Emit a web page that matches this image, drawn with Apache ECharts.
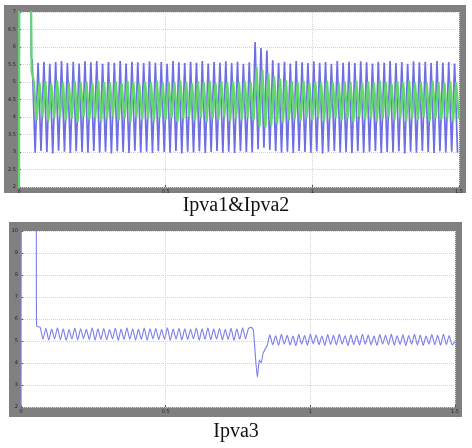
<!DOCTYPE html>
<html>
<head>
<meta charset="utf-8">
<script src="https://cdn.jsdelivr.net/npm/echarts@6/dist/echarts.min.js"></script>
<style>
  html, body { margin: 0; padding: 0; background: #fff; }
  #chart { width: 472px; height: 448px; }
</style>
</head>
<body>
<div id="chart"></div>
<script>
  // ---- data (A, time in s) ----
  const halfPeriod = 0.01; // 50 Hz ripple, peak / trough every 10 ms

  // Ipva1 (blue), top panel
  const ipva1StartT = [0, 0.001, 0.04, 0.042];
  const ipva1StartV = [0, 9, 9, 5.7];
  const ipva1Peaks = [
    5.62, 5.55, 5.58, 5.52, 5.57, 5.6, 5.54, 5.58, 5.53, 5.59,
    5.56, 5.6, 5.52, 5.57, 5.55, 5.6, 5.53, 5.58, 5.56, 5.54,
    5.59, 5.55, 5.57, 5.52, 5.6, 5.56, 5.54, 5.58, 5.55, 5.6,
    5.53, 5.57, 5.55, 5.59, 5.54, 5.58, 5.52, 5.56,
    6.14, 5.97, 5.9, 5.62,
    5.55, 5.58, 5.53, 5.6, 5.56, 5.54, 5.59, 5.55,
    5.57, 5.52, 5.6, 5.55, 5.58, 5.54, 5.59, 5.56, 5.53, 5.58,
    5.55, 5.6, 5.54, 5.57, 5.52, 5.59, 5.56, 5.58, 5.54, 5.6,
    5.55, 5.57, 5.53
  ];
  const ipva1Troughs = [
    2.98, 3.03, 3.0, 2.96, 3.04, 3.01, 2.97, 3.02, 3.0, 2.98,
    3.03, 2.99, 3.01, 2.96, 3.02, 3.0, 2.97, 3.04, 2.99, 3.01,
    2.97, 3.02, 3.0, 2.98, 3.03, 2.96, 3.01, 2.99, 3.02, 2.97,
    3.0, 3.03, 2.98, 3.01, 2.97, 3.02, 3.0, 2.99,
    3.08, 3.12, 3.06, 3.02, 2.98, 3.01, 2.97, 3.03,
    3.0, 2.98, 3.02, 2.96, 3.01, 3.03, 2.99, 3.0, 2.97, 3.02,
    2.98, 3.01, 3.03, 2.97, 3.0, 2.99, 3.02, 2.96, 3.01, 2.98,
    3.03, 3.0, 2.97, 3.02, 2.99, 3.01, 2.98
  ];

  // Ipva2 (green), top panel
  const ipva2StartT = [0, 0.001, 0.04, 0.043];
  const ipva2StartV = [0, 9, 9, 5.3];
  const ipva2Peaks = [
    5.05, 4.98, 5.02, 4.96, 5.04, 5.0, 4.97, 5.03, 4.99, 5.01,
    4.96, 5.04, 5.0, 4.98, 5.02, 4.97, 5.03, 5.0, 4.96, 5.02,
    4.99, 5.03, 4.97, 5.01, 4.98, 5.04, 5.0, 4.96, 5.02, 4.99,
    5.03, 4.97, 5.01, 4.98, 5.02, 4.99, 5.03, 5.0,
    5.42, 5.34, 5.25, 5.16, 5.1, 5.05, 5.02, 4.99,
    5.03, 4.97, 5.01, 4.98, 5.04, 5.0, 4.96, 5.02, 4.99, 5.03,
    4.97, 5.01, 4.98, 5.03, 5.0, 4.96, 5.02, 4.99, 5.04, 4.98,
    5.01, 4.97, 5.03, 5.0, 4.98, 5.02, 4.99
  ];
  const ipva2Troughs = [
    3.92, 4.0, 3.88, 3.97, 4.02, 3.9, 3.96, 3.86, 4.0, 3.93,
    3.98, 3.87, 3.95, 4.01, 3.9, 3.97, 3.85, 3.99, 3.92, 3.96,
    3.88, 4.0, 3.93, 3.97, 3.86, 3.95, 4.01, 3.9, 3.98, 3.87,
    3.96, 3.92, 4.0, 3.89, 3.97, 3.93, 3.99, 3.9,
    3.72, 3.7, 3.76, 3.8, 3.85, 3.9, 3.94, 3.88,
    3.97, 3.92, 4.0, 3.87, 3.95, 3.99, 3.9, 3.96, 3.86, 4.0,
    3.93, 3.97, 3.88, 3.95, 4.01, 3.9, 3.98, 3.87, 3.96, 3.92,
    4.0, 3.89, 3.97, 3.93, 3.99, 3.88, 3.95
  ];

  // Ipva3 (blue), bottom panel
  const ipva3StartT = [0, 0.001, 0.052, 0.054, 0.066];
  const ipva3StartV = [0, 12, 12, 5.68, 5.62];
  const ipva3TroughsA = [
    5.08, 5.04, 5.1, 5.06, 5.03, 5.09, 5.05, 5.11, 5.07, 5.04,
    5.08, 5.06, 5.1, 5.03, 5.07, 5.09, 5.05, 5.08, 5.04, 5.1,
    5.06, 5.08, 5.03, 5.09, 5.05, 5.07, 5.1, 5.04, 5.08, 5.06,
    5.09, 5.05, 5.07, 5.03, 5.08, 5.1
  ];
  const ipva3PeaksA = [
    5.58, 5.54, 5.6, 5.55, 5.52, 5.59, 5.56, 5.53, 5.6, 5.55,
    5.57, 5.52, 5.58, 5.54, 5.6, 5.56, 5.53, 5.59, 5.55, 5.57,
    5.52, 5.6, 5.54, 5.58, 5.56, 5.53, 5.59, 5.55, 5.6, 5.54,
    5.57, 5.52, 5.58, 5.55, 5.6, 5.56
  ];
  const ipva3DipT = [0.795, 0.803, 0.817, 0.824, 0.83, 0.837, 0.851];
  const ipva3DipV = [5.62, 5.5, 3.36, 4.14, 4.0, 4.45, 4.8];
  const ipva3PeaksB = [
    5.28, 5.24, 5.3, 5.26, 5.22, 5.29, 5.25, 5.31, 5.27, 5.23,
    5.29, 5.26, 5.3, 5.24, 5.28, 5.25, 5.31, 5.27, 5.22, 5.29,
    5.26, 5.3, 5.24, 5.28, 5.25, 5.3, 5.27, 5.23, 5.29, 5.26,
    5.31, 5.25
  ];
  const ipva3TroughsB = [
    4.83, 4.8, 4.86, 4.82, 4.79, 4.85, 4.81, 4.87, 4.83, 4.8,
    4.84, 4.82, 4.86, 4.79, 4.83, 4.81, 4.85, 4.82, 4.8, 4.86,
    4.83, 4.81, 4.84, 4.79, 4.85, 4.82, 4.8, 4.86, 4.83, 4.81,
    4.84, 4.82
  ];
  const ipva3EndT = [1.5];
  const ipva3EndV = [4.97];

  // ---- helpers ----
  const pairs = (ts, vs) => ts.map((t, i) => [t, vs[i]]);
  // interleave two value lists on the 10 ms sample grid starting at t0
  const ripple = (t0, first, second) => {
    const out = [];
    first.forEach((v, i) => {
      out.push([+(t0 + 2 * i * halfPeriod).toFixed(4), v]);
      if (i < second.length) out.push([+(t0 + (2 * i + 1) * halfPeriod).toFixed(4), second[i]]);
    });
    return out;
  };

  const ipva1Data = pairs(ipva1StartT, ipva1StartV).concat(ripple(0.045, ipva1Peaks, ipva1Troughs));
  const ipva2Data = pairs(ipva2StartT, ipva2StartV).concat(ripple(0.05, ipva2Peaks, ipva2Troughs));
  const ipva3Data = pairs(ipva3StartT, ipva3StartV)
    .concat(ripple(0.076, ipva3TroughsA, ipva3PeaksA))
    .concat(pairs(ipva3DipT, ipva3DipV))
    .concat(ripple(0.86, ipva3PeaksB, ipva3TroughsB))
    .concat(pairs(ipva3EndT, ipva3EndV));

  const tinyLabel = { fontSize: 5, color: '#222', fontFamily: 'DejaVu Sans' };
  const gridLine = { show: true, lineStyle: { color: '#d4d4d4', type: 'dotted', width: 1 } };

  const xAxisBase = (gridIndex) => ({
    type: 'value', gridIndex, min: 0, max: 1.5, interval: 0.5,
    axisLine: { show: false },
    axisTick: { show: true, inside: true, length: 2, lineStyle: { color: '#555' } },
    axisLabel: Object.assign({ margin: 2 }, tinyLabel),
    splitLine: gridLine
  });

  const chart = echarts.init(document.getElementById('chart'), null, { renderer: 'canvas' });
  chart.setOption({
    animation: false,
    backgroundColor: '#ffffff',
    graphic: [
      { type: 'rect', z: -100, shape: { x: 4, y: 5, width: 462, height: 188 }, style: { fill: '#808080' } },
      { type: 'rect', z: -100, shape: { x: 9, y: 222, width: 453, height: 195 }, style: { fill: '#808080' } }
    ],
    title: [
      { text: 'Ipva1&Ipva2', left: 'center', top: 196, padding: 0,
        textStyle: { fontFamily: 'Liberation Serif', fontSize: 20, fontWeight: 'normal', color: '#111' } },
      { text: 'Ipva3', left: 'center', top: 422, padding: 0,
        textStyle: { fontFamily: 'Liberation Serif', fontSize: 20, fontWeight: 'normal', color: '#111' } }
    ],
    grid: [
      { left: 19, top: 12, width: 440, height: 175, show: true, backgroundColor: '#fff', borderWidth: 0 },
      { left: 21, top: 231, width: 434, height: 176, show: true, backgroundColor: '#fff', borderWidth: 0 }
    ],
    xAxis: [xAxisBase(0), xAxisBase(1)],
    yAxis: [
      { type: 'value', gridIndex: 0, min: 2, max: 7, interval: 0.5,
        axisLine: { show: false },
        axisTick: { show: true, inside: true, length: 2, lineStyle: { color: '#555' } },
        axisLabel: Object.assign({ margin: 3 }, tinyLabel),
        splitLine: gridLine },
      { type: 'value', gridIndex: 1, min: 2, max: 10, interval: 1,
        axisLine: { show: false },
        axisTick: { show: true, inside: true, length: 2, lineStyle: { color: '#555' } },
        axisLabel: Object.assign({ margin: 3 }, tinyLabel),
        splitLine: gridLine }
    ],
    series: [
      { name: 'Ipva1', type: 'line', xAxisIndex: 0, yAxisIndex: 0, data: ipva1Data,
        showSymbol: false, lineStyle: { color: '#6e6ee6', width: 1.7 } },
      { name: 'Ipva2', type: 'line', xAxisIndex: 0, yAxisIndex: 0, data: ipva2Data,
        showSymbol: false, lineStyle: { color: '#62d86c', width: 2.2 } },
      { name: 'Ipva3', type: 'line', xAxisIndex: 1, yAxisIndex: 1, data: ipva3Data,
        showSymbol: false, smooth: 0.2, lineStyle: { color: '#7c7ce8', width: 1.1 } }
    ]
  });
</script>
</body>
</html>
